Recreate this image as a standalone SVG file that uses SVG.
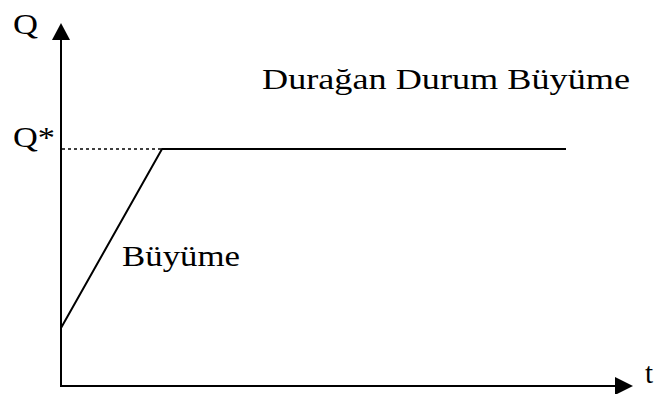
<svg xmlns="http://www.w3.org/2000/svg" width="657" height="394" viewBox="0 0 657 394">
<style>
.t{font-family:"Liberation Serif","Times New Roman",serif;font-size:29px;fill:#000}
.ax{stroke:#000;stroke-width:2;fill:none}
.ln{stroke:#000;stroke-width:2;fill:none}
</style>
<rect width="657" height="394" fill="#fff"/>
<g id="axes">
<line class="ax" x1="61" y1="36" x2="61" y2="386"/>
<line class="ax" x1="60" y1="386" x2="618" y2="386"/>
<polygon points="61,23 52,40 70,40" fill="#000"/>
<polygon points="633,386 615,377 615,395" fill="#000"/>
</g>
<g id="connectors">
<line x1="62" y1="149" x2="162" y2="149" stroke="#000" stroke-width="1.5" stroke-dasharray="3,3"/>
<polyline class="ln" points="61,328 162,149 566,149"/>
</g>
<g id="labels">
<text class="t" x="13" y="34" textLength="25" lengthAdjust="spacingAndGlyphs">Q</text>
<text class="t" x="13" y="147" textLength="42" lengthAdjust="spacingAndGlyphs">Q*</text>
<text class="t" x="645" y="383">t</text>
<text class="t" x="262" y="89" textLength="368" lengthAdjust="spacingAndGlyphs">Durağan Durum Büyüme</text>
<text class="t" x="122" y="266" textLength="118" lengthAdjust="spacingAndGlyphs">Büyüme</text>
</g>
</svg>
